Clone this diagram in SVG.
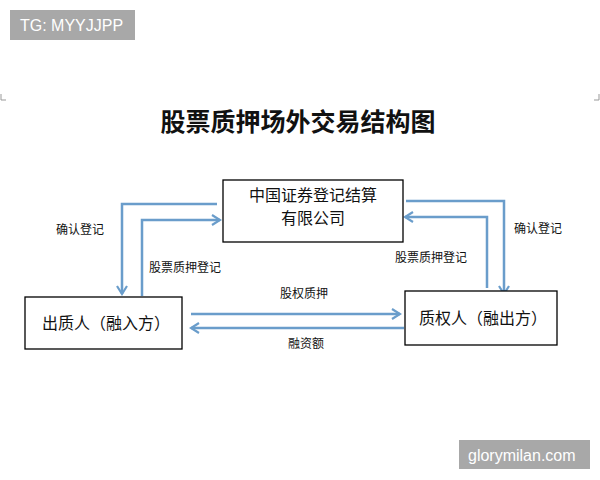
<svg xmlns="http://www.w3.org/2000/svg" width="600" height="480" viewBox="0 0 600 480">
<defs>
<style>
.box{fill:#fff;stroke:#000;stroke-width:1.3}
.t{font-family:"Noto Sans CJK SC","Noto Sans",sans-serif;fill:#111}
.bt{font-size:16px;text-anchor:middle}
.lb{font-size:12px;text-anchor:middle}
.ln{fill:none;stroke:#6a9dcb;stroke-width:2.5}
.badge{fill:#a8a8a8}
.bdt{font-family:"Liberation Sans",Arial,sans-serif;fill:#fff;font-size:16px}
</style>
<marker id="ah" markerWidth="12" markerHeight="12" refX="10" refY="6" orient="auto" markerUnits="userSpaceOnUse">
<polyline points="2,1 10,6 2,11" fill="none" stroke="#6a9dcb" stroke-width="2.2"/>
</marker>
</defs>
<rect width="600" height="480" fill="#fff"/>
<rect class="badge" x="10" y="10" width="125" height="30"/>
<text class="bdt" x="20" y="31">TG: MYYJJPP</text>
<path d="M1,94 V100 H6" fill="none" stroke="#999" stroke-width="1"/>
<path d="M599,94 V100 H594" fill="none" stroke="#999" stroke-width="1"/>
<text class="t" x="298" y="131" font-size="25" font-weight="bold" text-anchor="middle">股票质押场外交易结构图</text>
<g id="connectors">
<polyline class="ln" points="217,204 122,204 122,294" marker-end="url(#ah)"/>
<polyline class="ln" points="142,296 142,220 220,220" marker-end="url(#ah)"/>
<polyline class="ln" points="406,201 504,201 504,294" marker-end="url(#ah)"/>
<polyline class="ln" points="487,288 487,217 405,217" marker-end="url(#ah)"/>
<line class="ln" x1="191" y1="314" x2="400" y2="314" marker-end="url(#ah)"/>
<line class="ln" x1="404" y1="328" x2="191" y2="328" marker-end="url(#ah)"/>
<text class="t lb" x="80" y="234">确认登记</text>
<text class="t lb" x="185" y="272">股票质押登记</text>
<text class="t lb" x="538" y="233">确认登记</text>
<text class="t lb" x="431" y="262">股票质押登记</text>
<text class="t lb" x="304" y="298">股权质押</text>
<text class="t lb" x="306" y="348">融资额</text>
</g>
<g id="csdc">
<rect class="box" x="223" y="180" width="180" height="62"/>
<text class="t bt" x="313" y="201">中国证券登记结算</text>
<text class="t bt" x="313" y="224">有限公司</text>
</g>
<g id="pledgor">
<rect class="box" x="25" y="297" width="157" height="52"/>
<text class="t bt" x="106" y="329">出质人（融入方）</text>
</g>
<g id="pledgee">
<rect class="box" x="405" y="291" width="152" height="54"/>
<text class="t bt" x="483" y="324">质权人（融出方）</text>
</g>
<rect class="badge" x="459" y="440" width="131" height="29"/>
<text class="bdt" x="468" y="461">glorymilan.com</text>
</svg>
